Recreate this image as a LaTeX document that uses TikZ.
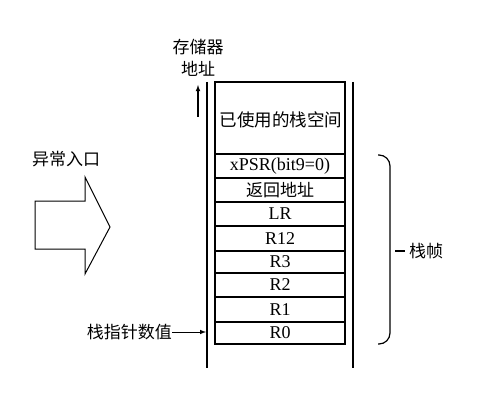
\documentclass[tikz,border=0pt]{standalone}
\usepackage{fontspec}
\setmainfont{Liberation Serif}
\newfontfamily\cjk{Noto Sans CJK SC}
\usepackage{tikz}
\usetikzlibrary{arrows,positioning,calc}

\tikzset{
    rail/.style={line width=1.3pt},
    cellline/.style={line width=1.1pt},
    lbl/.style={font=\fontsize{17}{22}\selectfont\cjk, inner sep=0pt},
    celltxt/.style={font=\fontsize{18}{20}\selectfont, inner sep=0pt}
}

\begin{document}
\begin{tikzpicture}[x=1pt,y=-1pt]
    \useasboundingbox (0,0) rectangle (492,401);

    % Rails of the stack
    \draw[rail] (207,82) -- (207,368);
    \draw[rail] (353,82) -- (353,368);

    % Stack box
    \draw[cellline] (215,82) rectangle (345,344);
    \draw[cellline] (215,154) -- (345,154);
    \node[celltxt, font=\fontsize{17.5}{20}\selectfont\cjk] (used) at (281,120) {已使用的栈空间};
    \foreach \t/\b/\txt [count=\i] in {154/178/{xPSR(bit9=0)}, 178/202/{\cjk\fontsize{17}{20}\selectfont 返回地址},
        202/226/LR, 226/251/R12, 251/273/R3, 273/297/R2, 297/322/R1, 322/344/R0} {
        \draw[cellline] (215,\b) -- (345,\b);
        \node[celltxt] (cell\i) at (280,{(\t+\b)/2}) {\txt};
    }

    % Memory address
    \node[lbl, align=center] (addr) at (198,58) {存储器\\地址};
    \coordinate (addrfoot) at (198,117);
    \draw[line width=1.1pt, -latex] (addrfoot) -- (198,85);

    % Exception entry
    \node[lbl] (entry) at (66,159) {异常入口};
    \draw[line width=1pt] (35,201) -- (85,201) -- (85,177) -- (110,227)
        -- (85,274) -- (85,249) -- (35,249) -- cycle;

    % Stack pointer
    \node[lbl, anchor=east] (sp) at (172,332) {栈指针数值};
    \coordinate (sptip) at (206,332);
    \draw[line width=1pt, -latex] (sp.east) -- (sptip);

    % Stack frame bracket
    \draw[line width=1.2pt, rounded corners=11pt] (378,155) -- (390,155) -- (390,344) -- (378,344);
    \coordinate (tick) at (395,251);
    \node[lbl, anchor=west] (frame) at (409,251) {栈帧};
    \draw[line width=1.1pt] (tick) -- ([xshift=-4pt]frame.west);
\end{tikzpicture}
\end{document}
